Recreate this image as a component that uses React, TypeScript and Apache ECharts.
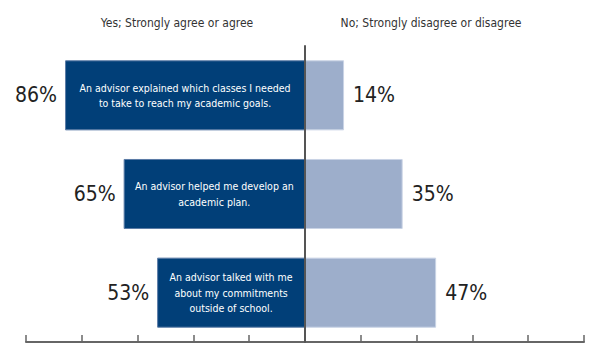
import React, { useEffect, useRef } from "react";
import * as echarts from "echarts";

const categories = [
  "An advisor explained which classes I needed\nto take to reach my academic goals.",
  "An advisor helped me develop an\nacademic plan.",
  "An advisor talked with me\nabout my commitments\noutside of school.",
];
const yesValues = [86, 65, 53];
const noValues = [14, 35, 47];
const seriesNames = ["Yes; Strongly agree or agree", "No; Strongly disagree or disagree"];
const axisMin = -100;
const axisMax = 100;
const axisInterval = 20;

const FONT = "'DejaVu Sans Condensed', 'Liberation Sans Narrow', sans-serif";

export default function App() {
  const ref = useRef<HTMLDivElement>(null);
  useEffect(() => {
    if (!ref.current) return;
    const chart = echarts.init(ref.current, undefined, { renderer: "svg" });
    chart.setOption({
      animation: false,
      textStyle: { fontFamily: FONT },
      grid: { left: 26, top: 46, width: 558, height: 296, containLabel: false },
      graphic: [
        {
          type: "text",
          x: 177,
          y: 23,
          style: {
            text: seriesNames[0],
            fill: "#333",
            font: `12px ${FONT}`,
            textAlign: "center",
            textVerticalAlign: "middle",
          },
        },
        {
          type: "text",
          x: 431,
          y: 23,
          style: {
            text: seriesNames[1],
            fill: "#333",
            font: `12px ${FONT}`,
            textAlign: "center",
            textVerticalAlign: "middle",
          },
        },
      ],
      xAxis: {
        type: "value",
        min: axisMin,
        max: axisMax,
        interval: axisInterval,
        axisLine: { show: true, lineStyle: { color: "#666", width: 2 } },
        axisTick: { show: true, inside: true, length: 7, lineStyle: { color: "#666", width: 1.5 } },
        axisLabel: { show: false },
        splitLine: { show: false },
      },
      yAxis: {
        type: "category",
        inverse: true,
        data: categories,
        axisLine: { show: true, onZero: true, lineStyle: { color: "#555", width: 2 } },
        axisTick: { show: false },
        axisLabel: { show: false },
        z: 10,
      },
      series: [
        {
          name: seriesNames[0],
          type: "bar",
          barWidth: "71%",
          barGap: "-100%",
          data: yesValues.map((v) => -v),
          itemStyle: { color: "#013F78", borderColor: "#5B7BA6", borderWidth: 1 },
          label: {
            show: true,
            position: "inside",
            formatter: (p: any) => categories[p.dataIndex],
            color: "#fff",
            fontSize: 10.5,
            lineHeight: 15.5,
            fontFamily: FONT,
            align: "center",
          },
        },
        {
          name: seriesNames[1],
          type: "bar",
          barWidth: "71%",
          barGap: "-100%",
          data: noValues,
          itemStyle: { color: "#9DAECB", borderColor: "#C9D3E5", borderWidth: 1 },
          label: {
            show: true,
            position: "right",
            distance: 9,
            formatter: (p: any) => `${p.value}%`,
            color: "#222",
            fontSize: 21,
            fontFamily: FONT,
          },
        },
        {
          type: "scatter",
          symbolSize: 0,
          itemStyle: { opacity: 1 },
          data: yesValues.map((v, i) => [-v, i]),
          label: {
            show: true,
            position: "left",
            distance: 8,
            formatter: (p: any) => `${yesValues[p.dataIndex]}%`,
            color: "#222",
            fontSize: 21,
            fontFamily: FONT,
          },
          silent: true,
        },
      ],
    });
    return () => chart.dispose();
  }, []);
  return (
    <div
      ref={ref}
      style={{ position: "fixed", left: 0, top: 0, width: 600, height: 358, background: "#fff" }}
    />
  );
}
